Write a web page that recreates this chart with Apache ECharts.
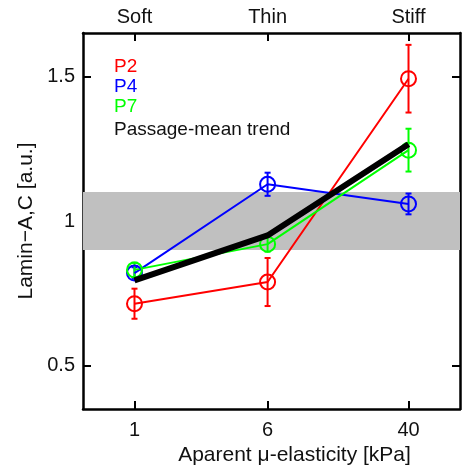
<!DOCTYPE html>
<html><head><meta charset="utf-8">
<script src="https://cdn.jsdelivr.net/npm/echarts@6/dist/echarts.min.js"></script>
<style>html,body{margin:0;padding:0;background:#fff}#c{width:473px;height:472px}</style>
</head><body><div id="c"></div>
<script>
const xValues = [1, 6, 40];
const topLabels = ['Soft', 'Thin', 'Stiff'];
const yTicks = [0.5, 1, 1.5];
const p2 = [0.714, 0.789, 1.492];
const p2Err = [0.052, 0.083, 0.117];
const p4 = [0.82, 1.127, 1.059];
const p4Err = [0.02, 0.04, 0.036];
const p7 = [0.831, 0.92, 1.245];
const p7Err = [0.025, 0.026, 0.074];
const meanTrend = [0.795, 0.95, 1.265];
const band = [0.9, 1.1];

const FONT = 'Liberation Sans';
const pairs = v => xValues.map((x, i) => [x, v[i]]);

function errSeries(vals, errs, color) {
  return {
    type: 'custom', xAxisIndex: 0, yAxisIndex: 0, z: 4, silent: true,
    data: xValues.map((x, i) => [x, vals[i] - errs[i], vals[i] + errs[i]]),
    renderItem: function (params, api) {
      const lo = api.coord([api.value(0), api.value(1)]);
      const hi = api.coord([api.value(0), api.value(2)]);
      const w = 3;
      const st = { stroke: color, lineWidth: 2 };
      return { type: 'group', children: [
        { type: 'line', shape: { x1: lo[0], y1: lo[1], x2: hi[0], y2: hi[1] }, style: st },
        { type: 'line', shape: { x1: lo[0] - w, y1: lo[1], x2: lo[0] + w, y2: lo[1] }, style: st },
        { type: 'line', shape: { x1: hi[0] - w, y1: hi[1], x2: hi[0] + w, y2: hi[1] }, style: st }
      ]};
    }
  };
}
function lineSeries(name, vals, color, withSym, width) {
  return {
    name: name, type: 'line', data: pairs(vals), z: withSym ? 5 : 6,
    symbol: withSym ? 'circle' : 'none', symbolSize: 15,
    lineStyle: { color: color, width: width },
    itemStyle: { color: 'rgba(0,0,0,0)', borderColor: color, borderWidth: 2 },
    showSymbol: withSym, animation: false
  };
}
const axisLine = { lineStyle: { color: '#000', width: 2.5 } };
const tickStyle = { width: 2, color: '#000' };
const chart = echarts.init(document.getElementById('c'));
chart.setOption({
  animation: false,
  backgroundColor: '#fff',
  grid: { left: 83, right: 13, top: 33, bottom: 63 },
  xAxis: [{
    type: 'log', logBase: 10, min: 0.5, max: 80, position: 'bottom',
    axisLine: axisLine, splitLine: { show: false }, minorTick: { show: false },
    axisTick: { inside: true, length: 8, lineStyle: tickStyle, customValues: xValues },
    axisLabel: { customValues: xValues, fontFamily: FONT, fontSize: 20, color: '#111', margin: 11,
      formatter: v => String(Math.round(v)) },
    name: 'Aparent \u03bc-elasticity [kPa]', nameLocation: 'middle', nameGap: 31,
    nameTextStyle: { fontFamily: FONT, fontSize: 21, color: '#111', padding: [0, 0, 0, 46] }
  }, {
    type: 'log', logBase: 10, min: 0.5, max: 80, position: 'top',
    axisLine: axisLine, splitLine: { show: false }, minorTick: { show: false },
    axisTick: { inside: true, length: 8, lineStyle: tickStyle, customValues: xValues },
    axisLabel: { customValues: xValues, fontFamily: FONT, fontSize: 20, color: '#111', margin: 6,
      formatter: v => topLabels[xValues.indexOf(Math.round(v))] }
  }],
  yAxis: [{
    type: 'value', min: 0.35, max: 1.65, position: 'left',
    axisLine: Object.assign({ show: true }, axisLine), splitLine: { show: false },
    axisTick: { show: true, inside: true, length: 8, lineStyle: tickStyle, customValues: yTicks },
    axisLabel: { customValues: yTicks, fontFamily: FONT, fontSize: 20, color: '#111', margin: 8,
      formatter: v => String(v) },
    name: 'Lamin\u2212A,C [a.u.]', nameLocation: 'middle', nameGap: 43,
    nameTextStyle: { fontFamily: FONT, fontSize: 21, color: '#111' }
  }, {
    type: 'value', min: 0.35, max: 1.65, position: 'right',
    axisLine: Object.assign({ show: true }, axisLine), splitLine: { show: false },
    axisTick: { show: true, inside: true, length: 8, lineStyle: tickStyle, customValues: yTicks },
    axisLabel: { show: false }
  }],
  series: [
    {
      type: 'line', data: [], z: 1, silent: true,
      markArea: { silent: true, itemStyle: { color: '#c0c0c0' },
        data: [[{ yAxis: band[0] }, { yAxis: band[1] }]] }
    },
    lineSeries('P2', p2, '#ff0000', true, 2),
    lineSeries('P4', p4, '#0000ff', true, 2),
    lineSeries('P7', p7, '#00ff00', true, 2),
    errSeries(p2, p2Err, '#ff0000'),
    errSeries(p4, p4Err, '#0000ff'),
    errSeries(p7, p7Err, '#00ff00'),
    lineSeries('Passage-mean trend', meanTrend, '#000000', false, 6)
  ],
  graphic: [
    { type: 'text', left: 114, top: 57, style: { text: 'P2', fill: '#ff0000', font: '19px "Liberation Sans"' } },
    { type: 'text', left: 114, top: 77, style: { text: 'P4', fill: '#0000ff', font: '19px "Liberation Sans"' } },
    { type: 'text', left: 114, top: 97, style: { text: 'P7', fill: '#00ff00', font: '19px "Liberation Sans"' } },
    { type: 'text', left: 114, top: 120, style: { text: 'Passage-mean trend', fill: '#111', font: '19px "Liberation Sans"' } }
  ]
});
</script></body></html>
